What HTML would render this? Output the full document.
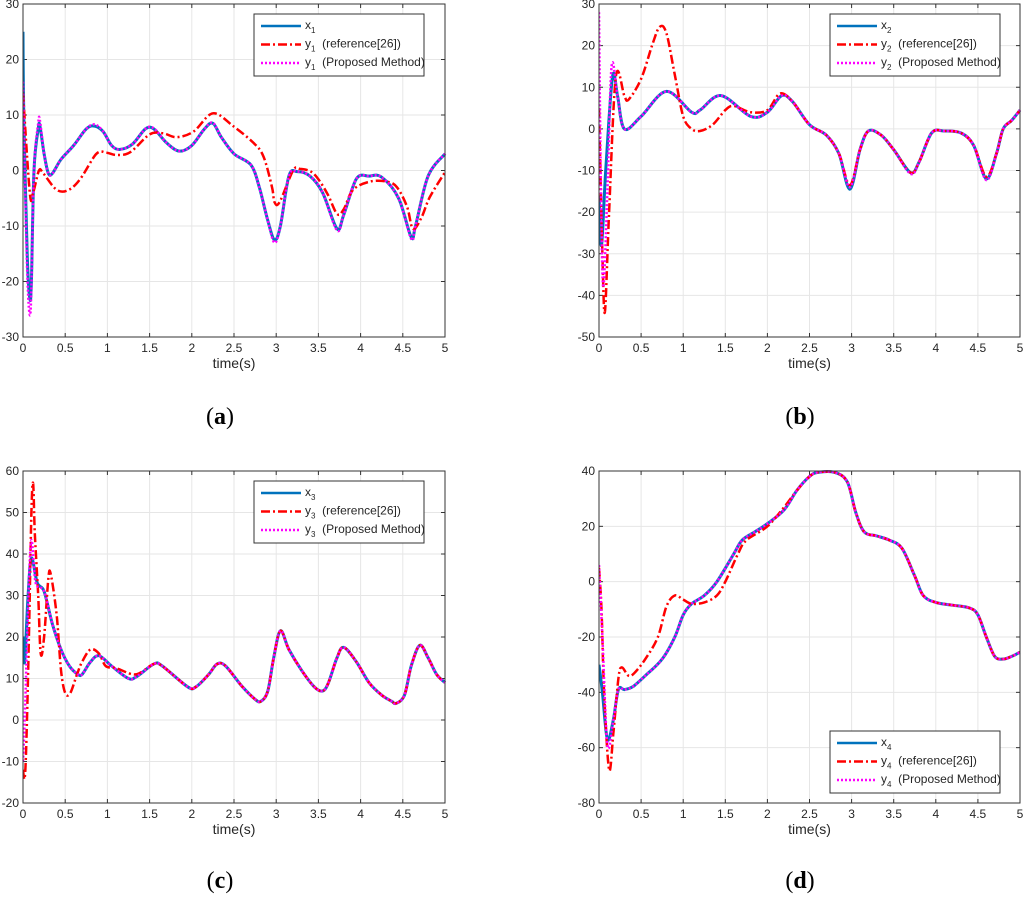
<!DOCTYPE html>
<html><head><meta charset="utf-8"><style>
body{margin:0;background:#fff;width:1024px;height:899px;overflow:hidden;font-family:"Liberation Sans",sans-serif}
svg{position:absolute;left:0;top:0}
</style></head><body>
<svg id="fig" width="1024" height="899"></svg>
<script>
const timeTicks=[0,0.5,1,1.5,2,2.5,3,3.5,4,4.5,5];
// Panel a
const aYTicks=[-30,-20,-10,0,10,20,30];
const aXT=[0,0.01,0.05,0.08,0.1,0.13,0.18,0.2,0.25,0.3,0.35,0.45,0.6,0.75,0.85,0.95,1.05,1.15,1.3,1.45,1.55,1.7,1.85,2.0,2.15,2.25,2.35,2.5,2.7,2.8,2.9,2.98,3.05,3.15,3.25,3.4,3.55,3.72,3.8,3.95,4.1,4.25,4.45,4.6,4.65,4.8,5.0];
const aXV=[25,10,-15,-23,-20,0,7.5,8,3,-0.5,-0.5,2,4.5,7.5,8,7,4.5,3.8,4.8,7.5,7.5,5,3.5,4.5,7.5,8.5,6,3,1,-3,-9,-12.5,-10,-1,-0.2,-1,-4,-10.5,-8,-1.5,-1,-1.2,-5,-12,-10,-1,3];
const aPT=[0,0.01,0.05,0.08,0.1,0.13,0.18,0.2,0.25,0.3,0.35,0.45,0.6,0.75,0.85,0.95,1.05,1.15,1.3,1.45,1.55,1.7,1.85,2.0,2.15,2.25,2.35,2.5,2.7,2.8,2.9,2.98,3.05,3.15,3.25,3.4,3.55,3.72,3.8,3.95,4.1,4.25,4.45,4.6,4.65,4.8,5.0];
const aPV=[16,8,-18,-26,-21,0,8.5,9,3,-0.5,-0.5,2,4.5,7.5,8.3,7,4.5,3.8,4.8,7.5,7.6,5,3.5,4.5,7.5,8.6,6,3,1,-3,-9,-13,-10,-1,-0.2,-1,-4,-10.8,-8,-1.5,-1,-1.2,-5,-12.3,-10,-1,3];
const aRT=[0,0.08,0.12,0.19,0.24,0.4,0.54,0.68,0.87,0.99,1.11,1.27,1.5,1.66,1.82,2.02,2.25,2.49,2.73,2.85,2.95,2.98,3.04,3.2,3.28,3.44,3.6,3.72,3.8,3.91,4.11,4.31,4.43,4.55,4.62,4.72,4.82,5.0];
const aRV=[14,-4,-4,0,-0.5,-3.5,-3.5,-1.5,3,3.2,2.8,3.3,6.5,6.7,6,7,10.3,8,5,2.5,-3,-5.7,-5.7,0,0.3,-0.5,-4,-7.8,-7,-3.5,-2,-2,-3,-6.5,-10.5,-8.5,-4.8,-0.3];
// Panel b
const bYTicks=[-50,-40,-30,-20,-10,0,10,20,30];
const bXT=[0,0.03,0.08,0.16,0.22,0.3,0.5,0.8,1.1,1.2,1.45,1.8,2.0,2.17,2.3,2.5,2.7,2.85,2.98,3.1,3.2,3.35,3.5,3.7,3.8,3.95,4.1,4.3,4.45,4.6,4.72,4.8,4.9,5.0];
const bXV=[-16,-28,-10,12.5,8,0,3,9,4,4.5,8,3,4,8,6.5,1,-1.5,-6,-14.5,-5,-0.5,-1.5,-5,-10.5,-8,-1,-0.5,-1,-4,-12,-6,0,2,4.5];
const bPT=[0,0.02,0.05,0.1,0.15,0.22,0.3,0.5,0.8,1.1,1.2,1.45,1.8,2.0,2.17,2.3,2.5,2.7,2.85,2.98,3.1,3.2,3.35,3.5,3.7,3.8,3.95,4.1,4.3,4.45,4.6,4.72,4.8,4.9,5.0];
const bPV=[28,-10,-38,-15,15,8,0,3,9,4,4.5,8,3,4,8,6.5,1,-1.5,-6,-14,-5,-0.5,-1.5,-5,-10.8,-8,-1,-0.5,-1,-4,-12.3,-6,0,2,4.5];
const bRT=[0,0.04,0.07,0.12,0.2,0.3,0.35,0.5,0.63,0.72,0.8,0.9,1.0,1.1,1.2,1.35,1.5,1.6,1.8,2.0,2.15,2.3,2.5,2.7,2.85,2.98,3.1,3.2,3.35,3.5,3.7,3.8,3.95,4.1,4.3,4.45,4.6,4.72,4.8,4.9,5.0];
const bRV=[5,-30,-44,-20,12.5,8,7,12,20,24.5,23,13,3,0,-0.5,1,4.5,5.5,4,4.5,8.5,6.5,1,-1.5,-6,-13.5,-5,-0.5,-1.5,-5,-10.5,-8,-1,-0.5,-1,-4,-11.5,-6,0,2,4.5];
// Panel c
const cYTicks=[-20,-10,0,10,20,30,40,50,60];
const cXT=[0,0.02,0.06,0.1,0.17,0.25,0.35,0.45,0.55,0.65,0.7,0.8,0.9,1.05,1.25,1.35,1.55,1.65,1.95,2.05,2.2,2.3,2.4,2.6,2.75,2.82,2.9,2.97,3.05,3.15,3.3,3.45,3.55,3.62,3.72,3.8,3.95,4.1,4.25,4.37,4.42,4.52,4.6,4.7,4.8,4.9,5.0];
const cXV=[20,14,30,39,33,31,23,17,13,11,11,14,15.5,13,10,10.5,13.5,13,8,8,11,13.5,13,8,5,4.5,7,15,21.5,17,12,8,7,9,15,17.5,14,9,6,4.5,4,6,13,18,15,11,9];
const cPT=[0,0.02,0.09,0.15,0.25,0.35,0.45,0.55,0.65,0.7,0.8,0.9,1.05,1.25,1.35,1.55,1.65,1.95,2.05,2.2,2.3,2.4,2.6,2.75,2.82,2.9,2.97,3.05,3.15,3.3,3.45,3.55,3.62,3.72,3.8,3.95,4.1,4.25,4.37,4.42,4.52,4.6,4.7,4.8,4.9,5.0];
const cPV=[-10,0,42,33,31,23,17,13,11,11,14,15.5,13,10,10.5,13.5,13,8,8,11,13.5,13,8,5,4.5,7,15,21.5,17,12,8,7,9,15,17.5,14,9,6,4.5,4,6,13,18,15,11,9];
const cRT=[0,0.02,0.04,0.07,0.1,0.12,0.14,0.18,0.21,0.25,0.3,0.33,0.4,0.45,0.5,0.56,0.64,0.7,0.8,0.9,0.98,1.1,1.3,1.4,1.55,1.65,1.95,2.05,2.2,2.3,2.4,2.6,2.75,2.82,2.9,2.97,3.05,3.15,3.3,3.45,3.55,3.62,3.72,3.8,3.95,4.1,4.25,4.37,4.42,4.52,4.6,4.7,4.8,4.9,5.0];
const cRV=[-12,-14,-5,20,50,57,45,30,16,20,34,35,25,12,6.5,6.5,11,14,17,16,13,12.5,11,11.5,13.5,13,8,8,11,13.5,13,8,5,4.5,7,15,21.5,17,12,8,7,9,15,17.5,14,9,6,4.5,4,6,13,18,15,11,9];
// Panel d
const dYTicks=[-80,-60,-40,-20,0,20,40];
const dXT=[0,0.04,0.1,0.17,0.23,0.3,0.4,0.55,0.75,0.9,1.0,1.1,1.25,1.4,1.6,1.7,1.85,2.0,2.2,2.35,2.5,2.6,2.8,2.95,3.05,3.15,3.3,3.45,3.6,3.75,3.85,4.0,4.2,4.4,4.5,4.6,4.7,4.8,4.9,5.0];
const dXV=[-30,-40,-57,-50,-39,-39,-38,-34,-28,-20,-12,-8,-5,0,10,15,18,21,26,33,38,39.5,39.5,36,25,18,16.5,15,12,2,-5,-7.5,-8.5,-9.5,-12,-20,-27,-28,-27,-25.5];
const dPT=[0,0.04,0.1,0.17,0.23,0.3,0.4,0.55,0.75,0.9,1.0,1.1,1.25,1.4,1.6,1.7,1.85,2.0,2.2,2.35,2.5,2.6,2.8,2.95,3.05,3.15,3.3,3.45,3.6,3.75,3.85,4.0,4.2,4.4,4.5,4.6,4.7,4.8,4.9,5.0];
const dPV=[6,-20,-59,-50,-39,-39,-38,-34,-28,-20,-12,-8,-5,0,10,15,18,21,26,33,38,39.5,39.5,36,25,18,16.5,15,12,2,-5,-7.5,-8.5,-9.5,-12,-20,-27,-28,-27,-25.5];
const dRT=[0,0.03,0.06,0.12,0.17,0.23,0.27,0.35,0.42,0.55,0.7,0.8,0.9,1.0,1.1,1.25,1.4,1.5,1.65,1.75,2.0,2.2,2.35,2.5,2.6,2.8,2.95,3.05,3.15,3.3,3.45,3.6,3.75,3.85,4.0,4.2,4.4,4.5,4.6,4.7,4.8,4.9,5.0];
const dRV=[5,-10,-40,-68,-55,-35,-31,-34,-33,-28,-20,-9,-5,-6.5,-8,-7.5,-5,0,10,15,20,27,33,38,39.5,39.5,36,25,18,16.5,15,12,2,-5,-7.5,-8.5,-9.5,-12,-20,-27,-28,-27,-25.5];

const NS='http://www.w3.org/2000/svg';
const svg=document.getElementById('fig');
function mk(tag,attrs,parent){const e=document.createElementNS(NS,tag);for(const k in attrs)e.setAttribute(k,attrs[k]);(parent||svg).appendChild(e);return e;}
function pathD(ts,vs,sx,sy){
  const p=ts.map((t,i)=>[sx(t),sy(vs[i])]);
  let d='M'+p[0][0].toFixed(1)+','+p[0][1].toFixed(1);
  for(let i=0;i<p.length-1;i++){
    const p0=p[Math.max(i-1,0)],p1=p[i],p2=p[i+1],p3=p[Math.min(i+2,p.length-1)];
    const c1=[p1[0]+(p2[0]-p0[0])/6,p1[1]+(p2[1]-p0[1])/6];
    const c2=[p2[0]-(p3[0]-p1[0])/6,p2[1]-(p3[1]-p1[1])/6];
    d+=' C'+c1[0].toFixed(1)+','+c1[1].toFixed(1)+' '+c2[0].toFixed(1)+','+c2[1].toFixed(1)+' '+p2[0].toFixed(1)+','+p2[1].toFixed(1);
  }
  return d;
}
function panel(cfg){
  const {id,L,R,T,B,ymin,ymax,yticks,series,leg,sub,label,labelX,labelY}=cfg;
  const g=mk('g',{});
  
  
  const sx=t=>L+(t-0)/(5-0)*(R-L);
  const sy=v=>B-(v-ymin)/(ymax-ymin)*(B-T);
  timeTicks.forEach(t=>{
    const x=sx(t);
    const gl=mk('line',{x1:x,x2:x,y1:T,y2:B,stroke:'#e6e6e6','stroke-width':1},g);
    
    
    mk('line',{x1:x,x2:x,y1:B,y2:B-4,stroke:'#333','stroke-width':1},g);
    mk('line',{x1:x,x2:x,y1:T,y2:T+4,stroke:'#333','stroke-width':1},g);
    const tx=mk('text',{x:x,y:B+15,'text-anchor':'middle','font-size':12,fill:'#262626'},g);
    tx.textContent=String(t);
    
    
  });
  yticks.forEach(v=>{
    const y=sy(v);
    const gl=mk('line',{x1:L,x2:R,y1:y,y2:y,stroke:'#e6e6e6','stroke-width':1},g);
    
    
    mk('line',{x1:L,x2:L+4,y1:y,y2:y,stroke:'#333','stroke-width':1},g);
    mk('line',{x1:R,x2:R-4,y1:y,y2:y,stroke:'#333','stroke-width':1},g);
    const tx=mk('text',{x:L-4,y:y+4,'text-anchor':'end','font-size':12,fill:'#262626'},g);
    tx.textContent=String(v);
    
    
  });
  const clipId='clip'+id;
  const cp=mk('clipPath',{id:clipId},g);mk('rect',{x:L,y:T-3,width:R-L+3,height:B-T+6},cp);
  const styles=[
    {stroke:'#0072BD',dash:'none',name:'x-series-line',w:3},
    {stroke:'#FF0000',dash:'9,3,2,3',name:'reference-series-line',w:2.5},
    {stroke:'#FF00FF',dash:'2,2',name:'proposed-series-line',w:2.5}];
  series.forEach((s,i)=>{
    const p=mk('path',{d:pathD(s[0],s[1],sx,sy),fill:'none',stroke:styles[i].stroke,'stroke-width':styles[i].w,'stroke-dasharray':styles[i].dash,'clip-path':'url(#'+clipId+')'},g);
    
    
  });
  const box=mk('rect',{x:L,y:T,width:R-L,height:B-T,fill:'none',stroke:'#333','stroke-width':1},g);
  
  
  const xl=mk('text',{x:(L+R)/2,y:B+31,'text-anchor':'middle','font-size':14,fill:'#262626'},g);
  xl.textContent='time(s)';
  
  
  const lg=mk('g',{},g);
  
  
  mk('rect',{x:leg[0],y:leg[1],width:170,height:62,fill:'#fff',stroke:'#333','stroke-width':1},lg);
  const names=[['x',''],['y','  (reference[26])'],['y','  (Proposed Method)']];
  names.forEach((n,i)=>{
    const y=leg[1]+12+i*18.5;
    mk('line',{x1:leg[0]+7,x2:leg[0]+47,y1:y,y2:y,stroke:styles[i].stroke,'stroke-width':2.5,'stroke-dasharray':styles[i].dash},lg);
    const t=mk('text',{x:leg[0]+51,y:y+3,'font-size':12,fill:'#262626'},lg);
    t.innerHTML=n[0]+'<tspan dy="4" font-size="8">'+sub+'</tspan><tspan dy="-4">'+n[1].replace(/ /g,'\u00a0')+'</tspan>';
    
    
  });
  const pl=mk('text',{x:labelX,y:labelY,'text-anchor':'middle','font-size':24,'font-family':'Liberation Serif, serif',fill:'#000'},g);
  pl.innerHTML='(<tspan font-weight="bold">'+label+'</tspan>)';
  
  
}
panel({id:'a',L:23,R:445,T:4,B:337,ymin:-30,ymax:30,yticks:aYTicks,series:[[aXT,aXV],[aRT,aRV],[aPT,aPV]],leg:[254,14],sub:'1',label:'a',labelX:220,labelY:424});
panel({id:'b',L:599,R:1020,T:4,B:337,ymin:-50,ymax:30,yticks:bYTicks,series:[[bXT,bXV],[bRT,bRV],[bPT,bPV]],leg:[830,14],sub:'2',label:'b',labelX:800,labelY:424});
panel({id:'c',L:23,R:445,T:471,B:803,ymin:-20,ymax:60,yticks:cYTicks,series:[[cXT,cXV],[cRT,cRV],[cPT,cPV]],leg:[254,481],sub:'3',label:'c',labelX:220,labelY:888});
panel({id:'d',L:599,R:1020,T:471,B:803,ymin:-80,ymax:40,yticks:dYTicks,series:[[dXT,dXV],[dRT,dRV],[dPT,dPV]],leg:[830,731],sub:'4',label:'d',labelX:800,labelY:888});
</script>
</body></html>
